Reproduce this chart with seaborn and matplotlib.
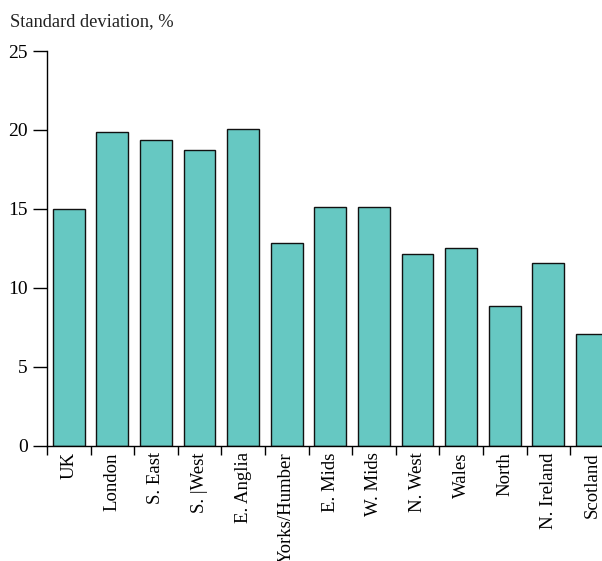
import numpy as np
import pandas as pd
import seaborn as sns
import matplotlib
matplotlib.use("Agg")
import matplotlib.pyplot as plt
from matplotlib.ticker import FixedLocator

regions = ["UK", "London", "S. East", "S. |West", "E. Anglia", "Yorks/Humber",
           "E. Mids", "W. Mids", "N. West", "Wales", "North", "N. Ireland", "Scotland"]
std_dev = [14.97, 19.89, 19.36, 18.75, 20.06, 12.84, 15.14, 15.10, 12.16, 12.54, 8.85, 11.59, 7.09]
y_ticks = [0, 5, 10, 15, 20, 25]
y_label = "Standard deviation, %"

sns.set_theme(style="white")
plt.rcParams['font.family'] = ['Liberation Serif', 'DejaVu Serif']

df = pd.DataFrame({"region": regions, "sd": std_dev})

fig = plt.figure(figsize=(6.02, 5.61), dpi=100)
ax = fig.add_axes([46.9 / 602, 1 - 445.7 / 561, 566.8 / 602, (445.7 - 51) / 561])

sns.barplot(data=df, x="region", y="sd", color="#66C8C2", saturation=1,
            edgecolor="#111111", linewidth=1.0, width=0.73, ax=ax)

ax.set_xlim(-0.5, len(regions) - 0.5)
ax.set_ylim(0, 25)
ax.set_yticks(y_ticks)
ax.set_yticklabels([str(t) for t in y_ticks], fontsize=14)
ax.tick_params(axis="y", direction="out", length=9.9, width=1.0, color="black",
               pad=4, left=True)

# major ticks at category boundaries (marks only), minor at centers (labels)
ax.xaxis.set_major_locator(FixedLocator(np.arange(-0.5, len(regions), 1.0)))
ax.xaxis.set_minor_locator(FixedLocator(np.arange(len(regions))))
ax.set_xticklabels([""] * len(np.arange(-0.5, len(regions), 1.0)))
ax.set_xticklabels(regions, minor=True, rotation=90, fontsize=13.5, va="top", ha="center")
ax.tick_params(axis="x", which="major", direction="out", length=6.5, width=1.0,
               color="black", bottom=True)
ax.tick_params(axis="x", which="minor", length=0, pad=4.8, bottom=True)

ax.set_xlabel("")
ax.set_ylabel("")
for s in ["top", "right"]:
    ax.spines[s].set_visible(False)
for s in ["left", "bottom"]:
    ax.spines[s].set_color("black")
    ax.spines[s].set_linewidth(1.0)
ax.tick_params(colors="black")
for t in ax.get_yticklabels() + ax.get_xticklabels(minor=True):
    t.set_color("black")

fig.text(10 / 602, 1 - 25.7 / 561, y_label, fontsize=13.3, va="baseline", ha="left",
         color="#222222")

fig.savefig("out.png", dpi=100)
